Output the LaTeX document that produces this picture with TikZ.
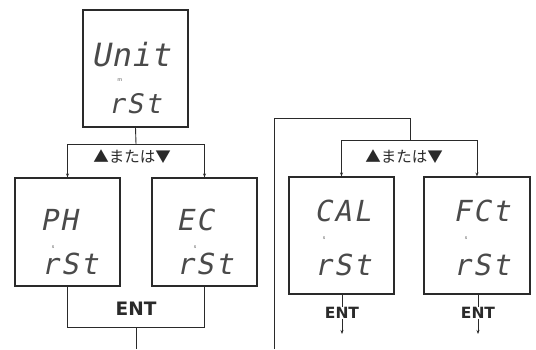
\documentclass[tikz,border=0pt]{standalone}
\usepackage{fontspec}
\usetikzlibrary{arrows.meta}
\newfontfamily\segfont[LetterSpace=8,FakeSlant=0.2]{DejaVu Sans Mono}
\newfontfamily\segwide[LetterSpace=2,FakeSlant=0.2]{DejaVu Sans Mono}
\newfontfamily\jpfont{Noto Sans CJK JP}
\newfontfamily\entfont{DejaVu Sans}
\definecolor{ink}{HTML}{2A2A2A}
\tikzset{
  dispbox/.style={draw=ink, line width=1.1pt, inner sep=0pt, minimum width=105pt, minimum height=117pt},
  segbig/.style={font=\segwide\fontsize{32}{32}\selectfont, text=ink!85, inner sep=0pt, anchor=west},
  segmid/.style={font=\segfont\fontsize{27}{27}\selectfont, text=ink!85, inner sep=0pt, anchor=west},
  segtxt/.style={font=\segfont\fontsize{29}{29}\selectfont, text=ink!85, inner sep=0pt, anchor=west},
  tiny/.style={font=\sffamily\fontsize{6}{6}\selectfont, text=ink!70, inner sep=0pt},
  conn/.style={draw=ink, line width=0.9pt},
  arr/.style={conn, -{Stealth[length=4pt,width=3pt]}},
  jp/.style={font=\jpfont\fontsize{15.5}{16}\selectfont, text=ink, inner sep=0pt},
  entbig/.style={font=\entfont\bfseries\fontsize{18.5}{19}\selectfont, text=ink, inner sep=0pt},
  entsm/.style={font=\entfont\bfseries\fontsize{15.5}{16}\selectfont, text=ink, inner sep=0pt},
}
\begin{document}
\begin{tikzpicture}[x=1pt,y=-1pt]
\useasboundingbox (0,0) rectangle (536,349);
% boxes
\node[dispbox] (top) at (135.5,68.5) {};
\node[dispbox, minimum height=108pt] (ph) at (67.5,232) {};
\node[dispbox, minimum height=108pt] (ec) at (204.5,232) {};
\node[dispbox] (cal) at (341.5,235.5) {};
\node[dispbox, minimum width=106pt] (fct) at (477,235.5) {};
% display texts
\node[segbig] (t1) at (91,55) {Unit};
\node[tiny] (t2) at (120,80) {m};
\node[segmid] (t3) at (108,104) {rSt};
\node[segtxt] (p1) at (40,220) {PH};
\node[tiny] (p2) at (53,247) {s};
\node[segtxt] (p3) at (41,264) {rSt};
\node[segtxt] (e1) at (176,220) {EC};
\node[tiny] (e2) at (195,247) {s};
\node[segtxt] (e3) at (176,264) {rSt};
\node[segtxt] (c1) at (314,211) {CAL};
\node[tiny] (c2) at (324,238) {s};
\node[segtxt] (c3) at (314,265) {rSt};
\node[segtxt] (f1) at (453,211) {FCt};
\node[tiny] (f2) at (466,238) {s};
\node[segtxt] (f3) at (453,265) {rSt};
% left group connectors
\coordinate (s1) at (136,144);
\draw[conn] (top.south) -- (s1);
\draw[conn] (ph.north |- s1) -- (ec.north |- s1);
\draw[arr] (ph.north |- s1) -- (ph.north);
\draw[arr] (ec.north |- s1) -- (ec.north);
\node[jp] (jp1) at (132,157) {▲または▼};
\coordinate (j1) at (136,327);
\coordinate (out1) at (136,349);
\draw[conn] (ph.south) -- (ph.south |- j1) -- (ec.south |- j1) -- (ec.south);
\draw[conn] (j1) -- (out1);
\node[entbig] (entL) at (136,309) {ENT};
% right group connectors
\coordinate (o1) at (274,349);
\coordinate (o2) at (274,118);
\coordinate (s2) at (410,140);
\draw[conn] (o1) -- (o2) -| (s2);
\draw[conn] (cal.north |- s2) -- (fct.north |- s2);
\draw[arr] (cal.north |- s2) -- (cal.north);
\draw[arr] (fct.north |- s2) -- (fct.north);
\node[jp] (jp2) at (404,157) {▲または▼};
\node[entsm] (entC) at (342,313) {ENT};
\node[entsm] (entF) at (478,313) {ENT};
\coordinate (endC) at (342,334);
\coordinate (endF) at (478,334);
\draw[conn, line width=0.6pt] (cal.south -| entC) -- (entC.north);
\draw[conn, line width=0.6pt] (fct.south -| entF) -- (entF.north);
\draw[arr, line width=0.6pt] (entC.south) -- (endC);
\draw[arr, line width=0.6pt] (entF.south) -- (endF);
\end{tikzpicture}
\end{document}
